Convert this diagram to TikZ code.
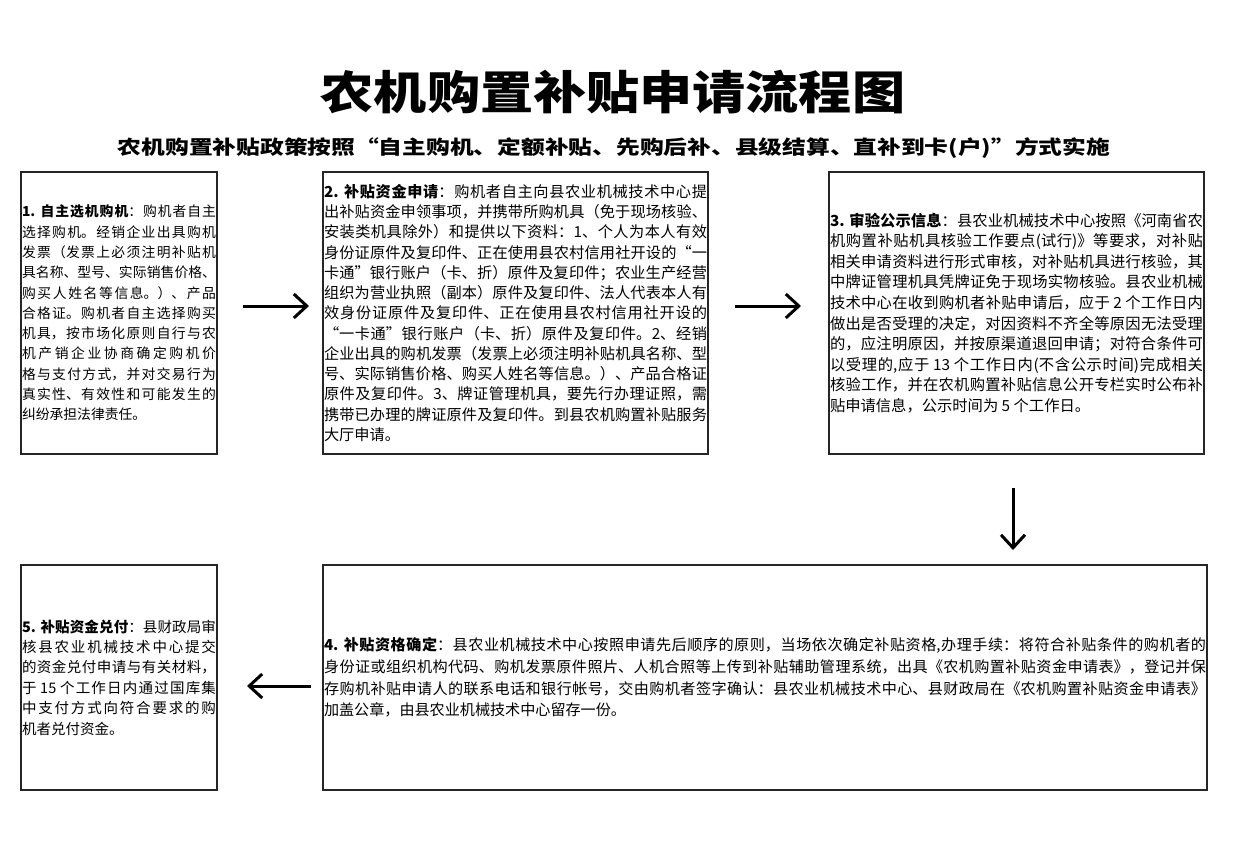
\documentclass[tikz,border=0pt]{standalone}
\usepackage{fontspec}
\setmainfont{Noto Sans CJK SC}
\newfontfamily\titlefont[FakeStretch=1.16]{Noto Sans CJK SC}
\newfontfamily\subfont[FakeStretch=1.23]{Noto Sans CJK SC}
\usetikzlibrary{arrows.meta}
\XeTeXlinebreaklocale "zh"
\XeTeXlinebreakskip = 0pt plus 4pt
\tikzset{
  box/.style={draw=black!85, line width=1.2pt, inner ysep=0pt, align=justify, anchor=center},
  arr/.style={line width=3pt, -{Straight Barb[length=13pt,width=24pt]}},
}
\begin{document}
\begin{tikzpicture}[x=1pt,y=-1pt]
\useasboundingbox (0,0) rectangle (1233,845);
\node[font={\titlefont\bfseries\fontsize{45.8}{52}\selectfont}] (title) at (613,92) {农机购置补贴申请流程图};
\node[font={\subfont\bfseries\fontsize{19.3}{24}\selectfont}] (sub) at (614,148) {农机购置补贴政策按照“自主购机、定额补贴、先购后补、县级结算、直补到卡(户)”方式实施};

\node[box, text width=194pt, inner xsep=1pt, minimum height=282pt,
  font={\fontsize{13.8}{20.3}\selectfont\parindent=0pt}] (b1) at (119,313) {%
\textbf{1. 自主选机购机}：购机者自主\linebreak
选择购机。经销企业出具购机\linebreak
发票（发票上必须注明补贴机\linebreak
具名称、型号、实际销售价格、\linebreak
购买人姓名等信息。）、产品\linebreak
合格证。购机者自主选择购买\linebreak
机具，按市场化原则自行与农\linebreak
机产销企业协商确定购机价\linebreak
格与支付方式，并对交易行为\linebreak
真实性、有效性和可能发生的\linebreak
纠纷承担法律责任。};

\node[box, text width=383pt, inner xsep=1pt, minimum height=282pt,
  font={\fontsize{15.2}{20.25}\selectfont\parindent=0pt}] (b2) at (515.5,313) {%
\textbf{2. 补贴资金申请}：购机者自主向县农业机械技术中心提\linebreak
出补贴资金申领事项，并携带所购机具（免于现场核验、\linebreak
安装类机具除外）和提供以下资料：1、个人为本人有效\linebreak
身份证原件及复印件、正在使用县农村信用社开设的“一\linebreak
卡通”银行账户（卡、折）原件及复印件；农业生产经营\linebreak
组织为营业执照（副本）原件及复印件、法人代表本人有\linebreak
效身份证原件及复印件、正在使用县农村信用社开设的\linebreak
“一卡通”银行账户（卡、折）原件及复印件。2、经销\linebreak
企业出具的购机发票（发票上必须注明补贴机具名称、型\linebreak
号、实际销售价格、购买人姓名等信息。）、产品合格证\linebreak
原件及复印件。3、牌证管理机具，要先行办理证照，需\linebreak
携带已办理的牌证原件及复印件。到县农机购置补贴服务\linebreak
大厅申请。};

\node[box, text width=373pt, inner xsep=1pt, minimum height=282pt,
  font={\fontsize{15.3}{20.6}\selectfont\parindent=0pt}] (b3) at (1016.5,313) {%
\textbf{3. 审验公示信息}：县农业机械技术中心按照《河南省农\linebreak
机购置补贴机具核验工作要点(试行)》等要求，对补贴\linebreak
相关申请资料进行形式审核，对补贴机具进行核验，其\linebreak
中牌证管理机具凭牌证免于现场实物核验。县农业机械\linebreak
技术中心在收到购机者补贴申请后，应于 2 个工作日内\linebreak
做出是否受理的决定，对因资料不齐全等原因无法受理\linebreak
的，应注明原因，并按原渠道退回申请；对符合条件可\linebreak
以受理的,应于 13 个工作日内(不含公示时间)完成相关\linebreak
核验工作，并在农机购置补贴信息公开专栏实时公布补\linebreak
贴申请信息，公示时间为 5 个工作日。};

\node[box, text width=882pt, inner xsep=1pt, minimum height=225pt,
  font={\fontsize{15.1}{21.7}\selectfont\parindent=0pt}] (b4) at (765,677.5) {%
\textbf{4. 补贴资格确定}：县农业机械技术中心按照申请先后顺序的原则，当场依次确定补贴资格,办理手续：将符合补贴条件的购机者的\linebreak
身份证或组织机构代码、购机发票原件照片、人机合照等上传到补贴辅助管理系统，出具《农机购置补贴资金申请表》，登记并保\linebreak
存购机补贴申请人的联系电话和银行帐号，交由购机者签字确认：县农业机械技术中心、县财政局在《农机购置补贴资金申请表》\linebreak
加盖公章，由县农业机械技术中心留存一份。};

\node[box, text width=194pt, inner xsep=1pt, minimum height=225pt,
  font={\fontsize{14.5}{20.4}\selectfont\parindent=0pt}] (b5) at (119,677.5) {%
\textbf{5. 补贴资金兑付}：县财政局审\linebreak
核县农业机械技术中心提交\linebreak
的资金兑付申请与有关材料，\linebreak
于 15 个工作日内通过国库集\linebreak
中支付方式向符合要求的购\linebreak
机者兑付资金。};

\coordinate (a1s) at (243,306);
\coordinate (a1e) at (309,306);
\coordinate (a2s) at (735,306);
\coordinate (a2e) at (801,306);
\coordinate (a3s) at (1013,488);
\coordinate (a3e) at (1013,550);
\coordinate (a4s) at (311,686);
\coordinate (a4e) at (247,686);
\draw[arr] (a1s) -- (a1e);
\draw[arr] (a2s) -- (a2e);
\draw[arr] (a3s) -- (a3e);
\draw[arr] (a4s) -- (a4e);
\end{tikzpicture}
\end{document}
